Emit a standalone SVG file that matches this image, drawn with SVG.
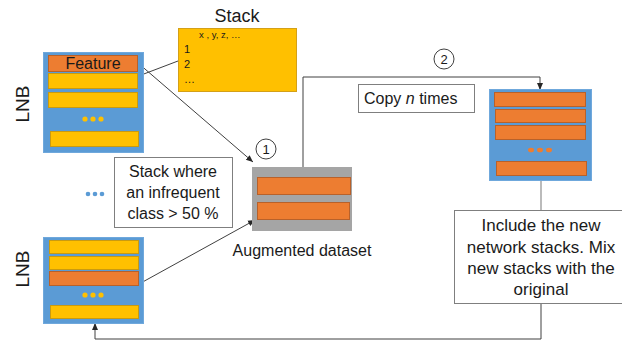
<svg xmlns="http://www.w3.org/2000/svg" width="622" height="341" viewBox="0 0 622 341">
<defs>
<marker id="ah" markerWidth="8" markerHeight="8" refX="7" refY="4" orient="auto" markerUnits="userSpaceOnUse">
<path d="M0,1 L7,4 L0,7 Z" fill="#262626"/>
</marker>
<style>
text{font-family:"Liberation Sans",Arial,sans-serif;fill:#1a1a1a}
.blue{fill:#5B9BD5;stroke:#6FA8DC;stroke-width:1}
.or{fill:#ED7D31;stroke:#B8612A;stroke-width:1}
.ye{fill:#FFC000;stroke:#C99A10;stroke-width:1}
.box{fill:#fff;stroke:#7f7f7f;stroke-width:1}
.con{fill:none;stroke:#404040;stroke-width:1}
.c{text-anchor:middle}
</style>
</defs>
<g id="connectors">
<line class="con" x1="178" y1="61" x2="128" y2="80" marker-end="url(#ah)"/>
<line class="con" x1="138" y1="63" x2="253" y2="162" marker-end="url(#ah)"/>
<line class="con" x1="139" y1="284" x2="255" y2="220" marker-end="url(#ah)"/>
<polyline class="con" points="303,167 303,77 540,77 540,90" marker-end="url(#ah)"/>
<line x1="541" y1="181" x2="541" y2="210" stroke="#A5A5A5" stroke-width="1.5"/>
<polyline class="con" points="541,303 541,339 95,339 95,323" marker-end="url(#ah)"/>
</g>
<g id="lnb-top">
<text class="c" x="0" y="0" font-size="19" transform="translate(29,104) rotate(-90)">LNB</text>
<rect class="blue" x="43.5" y="52.5" width="100" height="100"/>
<rect class="or" x="48.5" y="55.5" width="89" height="16"/>
<text class="c" x="93" y="69" font-size="16">Feature</text>
<rect class="ye" x="48.5" y="73.5" width="89" height="15"/>
<rect class="ye" x="48.5" y="92.5" width="89" height="15"/>
<circle cx="85" cy="119" r="2.6" fill="#FFC000"/>
<circle cx="93" cy="119" r="2.6" fill="#FFC000"/>
<circle cx="101" cy="119" r="2.6" fill="#FFC000"/>
<rect class="ye" x="50.5" y="131.5" width="88" height="15"/>
</g>
<g id="stack">
<text class="c" x="237" y="22" font-size="18">Stack</text>
<rect x="178.5" y="28.5" width="118" height="63" fill="#FFC000" stroke="#D4A017"/>
<text x="199" y="38" font-size="9.5">x , y, z, …</text>
<text x="184" y="53" font-size="11">1</text>
<text x="184" y="68" font-size="11">2</text>
<text x="184" y="83" font-size="11">…</text>
</g>
<g id="dots-left">
<circle cx="88" cy="194" r="2.3" fill="#5B9BD5"/>
<circle cx="95" cy="194" r="2.3" fill="#5B9BD5"/>
<circle cx="102" cy="194" r="2.3" fill="#5B9BD5"/>
</g>
<g id="note-stack">
<rect class="box" x="114.5" y="157.5" width="118" height="70" stroke="#bfbfbf"/>
<text class="c" x="173" y="177" font-size="16">Stack where</text>
<text class="c" x="173" y="198" font-size="16">an infrequent</text>
<text class="c" x="173" y="219" font-size="16">class &gt; 50 %</text>
</g>
<g id="lnb-bottom">
<text class="c" x="0" y="0" font-size="19" transform="translate(29,269) rotate(-90)">LNB</text>
<rect class="blue" x="43.5" y="237.5" width="100" height="86"/>
<rect class="ye" x="49.5" y="240.5" width="89" height="13"/>
<rect class="ye" x="49.5" y="256.5" width="89" height="13"/>
<rect class="or" x="49.5" y="271.5" width="89" height="14"/>
<circle cx="85" cy="295" r="2.6" fill="#FFC000"/>
<circle cx="93" cy="295" r="2.6" fill="#FFC000"/>
<circle cx="101" cy="295" r="2.6" fill="#FFC000"/>
<rect class="ye" x="50.5" y="305.5" width="88" height="13"/>
</g>
<g id="circle-1">
<circle cx="266" cy="149" r="10" fill="#fff" stroke="#404040"/>
<text class="c" x="266" y="154" font-size="13">1</text>
</g>
<g id="augmented">
<rect x="252" y="167" width="100" height="64" fill="#A5A5A5"/>
<rect class="or" x="257.5" y="177.5" width="93" height="17"/>
<rect class="or" x="257.5" y="202.5" width="92" height="17"/>
<text class="c" x="302" y="256" font-size="16">Augmented dataset</text>
</g>
<g id="circle-2">
<circle cx="444" cy="59" r="10" fill="#fff" stroke="#404040"/>
<text class="c" x="444" y="64" font-size="13">2</text>
</g>
<g id="copy">
<rect class="box" x="358.5" y="84.5" width="116" height="28"/>
<text x="364" y="104" font-size="16">Copy <tspan font-style="italic">n</tspan> times</text>
</g>
<g id="new-stacks">
<rect class="blue" x="489.5" y="89.5" width="102" height="91"/>
<rect class="or" x="494.5" y="92.5" width="91" height="14"/>
<rect class="or" x="495.5" y="109.5" width="90" height="13"/>
<rect class="or" x="495.5" y="125.5" width="90" height="14"/>
<ellipse cx="531" cy="150" rx="3" ry="2.3" fill="#ED7D31"/>
<ellipse cx="540" cy="150" rx="3" ry="2.3" fill="#ED7D31"/>
<ellipse cx="549" cy="150" rx="3" ry="2.3" fill="#ED7D31"/>
<rect class="or" x="496.5" y="161.5" width="90" height="14"/>
</g>
<g id="include">
<rect class="box" x="454.5" y="210.5" width="168" height="93" stroke="#595959"/>
<text class="c" x="541" y="231" font-size="17">Include the new</text>
<text class="c" x="541" y="253" font-size="17">network stacks. Mix</text>
<text class="c" x="541" y="274" font-size="17">new stacks with the</text>
<text class="c" x="541" y="295" font-size="17">original</text>
</g>
</svg>
